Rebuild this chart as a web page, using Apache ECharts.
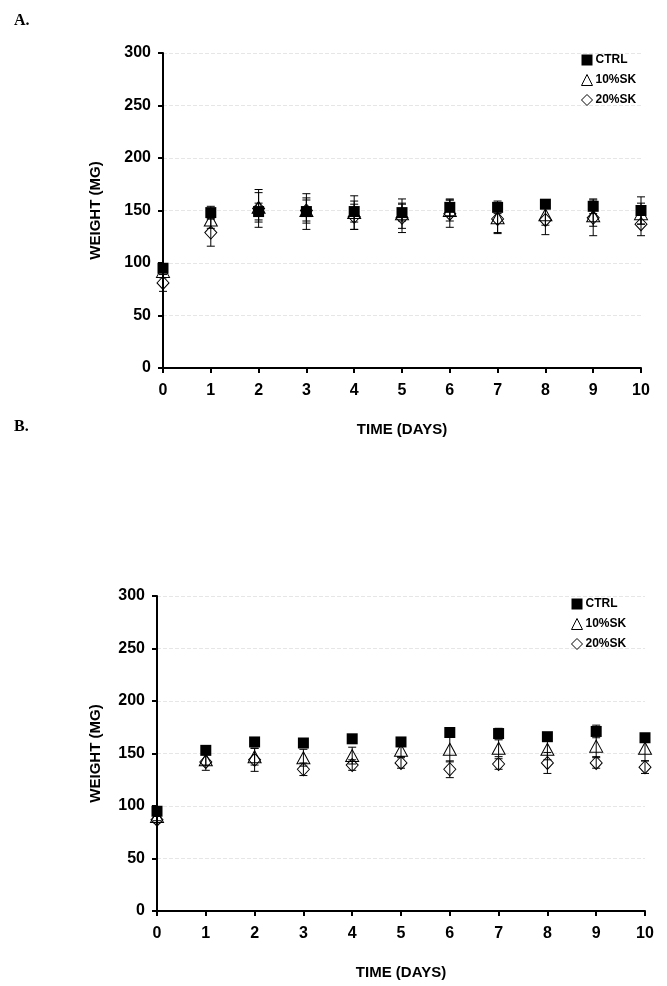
<!DOCTYPE html>
<html>
<head>
<meta charset="utf-8">
<script src="https://cdn.jsdelivr.net/npm/echarts@6/dist/echarts.min.js"></script>
<style>
  html, body { margin: 0; padding: 0; background: #fff; }
  #chart { width: 667px; height: 986px; }
</style>
</head>
<body>
<div id="chart"></div>
<script>
  // days on the x axis
  const days = [0, 1, 2, 3, 4, 5, 6, 7, 8, 9, 10]
  const seriesNames = ['CTRL', '10%SK', '20%SK']

  // panel A: mean and sd
  const ctrlA = [95, 148, 149, 149, 149, 148, 153, 153, 156, 154, 150]
  const ctrlASd = [4, 6, 8, 17, 10, 8, 8, 6, 3, 7, 13]
  const sk10A = [92, 141, 153, 150, 148, 147, 150, 143, 146, 145, 147]
  const sk10ASd = [6, 8, 14, 10, 16, 14, 10, 14, 10, 10, 10]
  const sk20A = [81, 129, 152, 150, 144, 143, 147, 142, 141, 143, 137]
  const sk20ASd = [8, 13, 18, 12, 12, 14, 13, 14, 14, 17, 11]

  // panel B: mean and sd
  const ctrlB = [95, 153, 161, 160, 164, 161, 170, 169, 166, 171, 165]
  const ctrlBSd = [3, 3, 3, 3, 3, 3, 3, 5, 3, 6, 3]
  const sk10B = [90, 144, 147, 146, 148, 153, 154, 155, 154, 157, 155]
  const sk10BSd = [4, 5, 8, 8, 8, 6, 12, 8, 10, 10, 12]
  const sk20B = [87, 142, 144, 135, 139, 141, 135, 140, 141, 141, 137]
  const sk20BSd = [3, 8, 11, 6, 5, 5, 8, 5, 10, 5, 6]

  const fontAx = 'Liberation Sans, Arial, sans-serif'

  const myChart = echarts.init(document.getElementById('chart'))

  function xAxisCfg(gridIndex) {
    return {
      gridIndex: gridIndex,
      type: 'value',
      min: 0,
      max: 10,
      interval: 1,
      name: 'TIME (DAYS)',
      nameLocation: 'middle',
      nameGap: 54,
      nameTextStyle: { color: '#000', fontWeight: 'bold', fontSize: 15, fontFamily: fontAx },
      axisLine: { lineStyle: { color: '#000', width: 2 } },
      axisTick: { show: true, length: 5, lineStyle: { color: '#000', width: 2 } },
      axisLabel: { color: '#000', fontWeight: 'bold', fontSize: 16, fontFamily: fontAx, margin: 15 },
      splitLine: { show: false }
    }
  }

  function yAxisCfg(gridIndex, gap) {
    return {
      gridIndex: gridIndex,
      type: 'value',
      min: 0,
      max: 300,
      interval: 50,
      name: 'WEIGHT (MG)',
      nameLocation: 'middle',
      nameGap: gap,
      nameTextStyle: { color: '#000', fontWeight: 'bold', fontSize: 15, fontFamily: fontAx },
      axisLine: { show: true, lineStyle: { color: '#000', width: 2 } },
      axisTick: { show: true, length: 5, lineStyle: { color: '#000', width: 2 } },
      axisLabel: { color: '#000', fontWeight: 'bold', fontSize: 16, fontFamily: fontAx, margin: 12 },
      splitLine: { show: true, lineStyle: { color: '#e6e6e6', type: 'dashed', width: 1 } }
    }
  }

  // error bar series (drawn under the markers)
  function errorSeries(idx, mean, sd) {
    return {
      type: 'custom',
      name: 'err',
      xAxisIndex: idx,
      yAxisIndex: idx,
      silent: true,
      z: 1,
      data: days.map((d, i) => [d, mean[i] - sd[i], mean[i] + sd[i]]),
      renderItem: function (params, api) {
        const top = api.coord([api.value(0), api.value(2)])
        const bot = api.coord([api.value(0), api.value(1)])
        const w = 4
        const st = { stroke: '#000', lineWidth: 1 }
        return {
          type: 'group',
          children: [
            { type: 'line', shape: { x1: top[0], y1: top[1], x2: bot[0], y2: bot[1] }, style: st },
            { type: 'line', shape: { x1: top[0] - w, y1: top[1], x2: top[0] + w, y2: top[1] }, style: st },
            { type: 'line', shape: { x1: bot[0] - w, y1: bot[1], x2: bot[0] + w, y2: bot[1] }, style: st }
          ]
        }
      }
    }
  }

  let seriesStyle = [{
    symbol: 'rect',
    symbolSize: 11,
    itemStyle: { color: '#000', borderColor: '#000', borderWidth: 0, opacity: 1 }
  }, {
    symbol: 'triangle',
    symbolSize: [13, 12],
    itemStyle: { color: 'rgba(255,255,255,0)', borderColor: '#000', borderWidth: 1, opacity: 1 }
  }, {
    symbol: 'diamond',
    symbolSize: [12, 13],
    itemStyle: { color: 'rgba(255,255,255,0)', borderColor: '#000', borderWidth: 1, opacity: 1 }
  }]

  function pointSeries(idx, k, mean) {
    return Object.assign({
      type: 'scatter',
      name: seriesNames[k],
      xAxisIndex: idx,
      yAxisIndex: idx,
      z: 5 - k,
      data: days.map((d, i) => [d, mean[i]])
    }, seriesStyle[k])
  }

  function legendCfg(left, top) {
    return {
      orient: 'vertical',
      left: left,
      top: top,
      itemWidth: 11,
      itemHeight: 11,
      itemGap: 8,
      selectedMode: false,
      itemStyle: { borderWidth: 1 },
      textStyle: { color: '#000', fontWeight: 'bold', fontSize: 12, fontFamily: fontAx, padding: [0, 0, 0, -2] },
      data: [
        { name: 'CTRL', icon: 'rect', itemStyle: { borderWidth: 0 } },
        { name: '10%SK', icon: 'triangle' },
        { name: '20%SK', icon: 'diamond' }
      ]
    }
  }

  let option = {
    backgroundColor: '#fff',
    animation: false,
    grid: [
      { left: 163, top: 53, width: 478, height: 315 },
      { left: 157, top: 596, width: 488, height: 315 }
    ],
    xAxis: [xAxisCfg(0), xAxisCfg(1)],
    yAxis: [yAxisCfg(0, 60), yAxisCfg(1, 54)],
    legend: [legendCfg(576, 49), legendCfg(566, 593)],
    graphic: [
      { type: 'text', left: 14, top: 13, style: { text: 'A.', font: 'bold 16px "Liberation Serif", "Times New Roman", serif', fill: '#000' } },
      { type: 'text', left: 14, top: 419, style: { text: 'B.', font: 'bold 16px "Liberation Serif", "Times New Roman", serif', fill: '#000' } }
    ],
    series: [
      errorSeries(0, ctrlA, ctrlASd),
      errorSeries(0, sk10A, sk10ASd),
      errorSeries(0, sk20A, sk20ASd),
      errorSeries(1, ctrlB, ctrlBSd),
      errorSeries(1, sk10B, sk10BSd),
      errorSeries(1, sk20B, sk20BSd),
      pointSeries(0, 0, ctrlA),
      pointSeries(0, 1, sk10A),
      pointSeries(0, 2, sk20A),
      pointSeries(1, 0, ctrlB),
      pointSeries(1, 1, sk10B),
      pointSeries(1, 2, sk20B)
    ]
  }

  myChart.setOption(option)
</script>
</body>
</html>
